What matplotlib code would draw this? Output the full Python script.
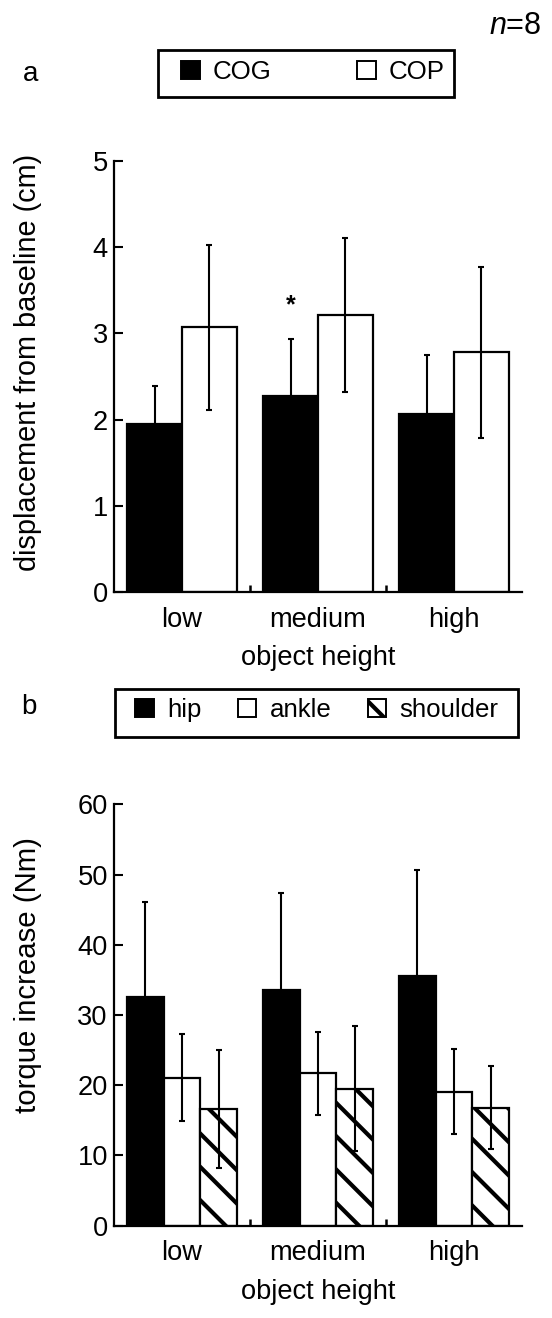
import matplotlib
matplotlib.use('Agg')
import matplotlib.pyplot as plt
from matplotlib.patches import Patch, Rectangle
import numpy as np

plt.rcParams['font.family'] = ['Liberation Sans', 'DejaVu Sans']
plt.rcParams['mathtext.fontset'] = 'custom'
plt.rcParams['mathtext.rm'] = 'Liberation Sans'
plt.rcParams['mathtext.it'] = 'Liberation Sans:italic'
plt.rcParams['hatch.linewidth'] = 1.5
plt.rcParams['hatch.color'] = 'black'

# ---------------- data ----------------
categories = ['low', 'medium', 'high']
cog = [1.95, 2.28, 2.07]
cog_err = [0.44, 0.65, 0.68]
cop = [3.07, 3.21, 2.78]
cop_err = [0.96, 0.89, 0.99]
hip = [32.6, 33.5, 35.6]
hip_err = [13.5, 13.9, 15.0]
ankle = [21.1, 21.7, 19.1]
ankle_err = [6.2, 5.9, 6.0]
shoulder = [16.6, 19.5, 16.8]
shoulder_err = [8.4, 8.9, 5.9]
yticks_a = [0, 1, 2, 3, 4, 5]
yticks_b = [0, 10, 20, 30, 40, 50, 60]

W, H = 552, 1318
DPI = 200
fig = plt.figure(figsize=(W / DPI, H / DPI), dpi=DPI)


def px_axes(left, top, right, bottom):
    return fig.add_axes([left / W, 1 - bottom / H, (right - left) / W, (bottom - top) / H])


axa = px_axes(114, 160.8, 522, 592.3)
axb = px_axes(114, 804.3, 522, 1225.7)

x = np.arange(len(categories))
LW = 0.8
FS = 9.8


def style(ax, yticks):
    for s in ['top', 'right']:
        ax.spines[s].set_visible(False)
    for s in ['left', 'bottom']:
        ax.spines[s].set_linewidth(LW)
    ax.set_xlim(-0.5, 2.5)
    ax.set_ylim(yticks[0], yticks[-1])
    ax.set_yticks(yticks)
    ax.tick_params(axis='y', direction='in', length=3.2, width=0.75, labelsize=FS, pad=2.2)
    ax.set_xticks(x)
    ax.set_xticklabels(categories)
    ax.tick_params(axis='x', which='major', length=0, labelsize=FS, pad=5.2)
    ax.set_xticks(x[:-1] + 0.5, minor=True)
    ax.tick_params(axis='x', which='minor', direction='in', length=2.6, width=0.9)
    ax.set_xlabel('object height', fontsize=FS, labelpad=4.5)


# ---------------- panel a ----------------
wa = 0.404
axa.bar(x - wa / 2, cog, wa, color='black', edgecolor='black', linewidth=LW, zorder=2)
axa.bar(x + wa / 2, cop, wa, color='white', edgecolor='black', linewidth=LW, zorder=2)
axa.errorbar(x - wa / 2, cog, yerr=cog_err, fmt='none', ecolor='black', elinewidth=0.75,
             capsize=1.1, capthick=0.75, zorder=3)
axa.errorbar(x + wa / 2, cop, yerr=cop_err, fmt='none', ecolor='black', elinewidth=0.75,
             capsize=1.1, capthick=0.75, zorder=3)
axa.text(x[1] - wa / 2, cog[1] + cog_err[1] + 0.4, '*', ha='center', va='center',
         fontsize=9, fontweight='bold')
style(axa, yticks_a)

# ---------------- panel b ----------------
wb = 0.27
axb.bar(x - wb, hip, wb, color='black', edgecolor='black', linewidth=LW, zorder=2)
axb.bar(x, ankle, wb, color='white', edgecolor='black', linewidth=LW, zorder=2)
axb.bar(x + wb, shoulder, wb, color='white', edgecolor='black', linewidth=LW,
        hatch='\\\\', zorder=2)
for off, vals, errs in [(-wb, hip, hip_err), (0, ankle, ankle_err), (wb, shoulder, shoulder_err)]:
    axb.errorbar(x + off, vals, yerr=errs, fmt='none', ecolor='black', elinewidth=0.75,
                 capsize=1.1, capthick=0.75, zorder=3)
style(axb, yticks_b)

# ---------------- labels ----------------
fig.text(28 / W, 1 - 362 / H, 'displacement from baseline (cm)', rotation=90,
         ha='center', va='center', fontsize=10.4)
fig.text(28 / W, 1 - 975 / H, 'torque increase (Nm)', rotation=90,
         ha='center', va='center', fontsize=10.6)
fig.text(31 / W, 1 - 81 / H, 'a', ha='center', va='baseline', fontsize=10)
fig.text(29 / W, 1 - 714 / H, 'b', ha='center', va='baseline', fontsize=10)
fig.text(541 / W, 1 - 34 / H, r'$n$=8', ha='right', va='baseline', fontsize=11)

# ---------------- legends ----------------
fig.add_artist(Rectangle((158 / W, 1 - 97 / H), 296 / W, 47 / H, transform=fig.transFigure,
                         fill=False, edgecolor='black', linewidth=1.0))
fig.add_artist(Rectangle((115 / W, 1 - 737 / H), 403 / W, 48 / H, transform=fig.transFigure,
                         fill=False, edgecolor='black', linewidth=1.0))

ha = [Patch(facecolor='black', edgecolor='black', linewidth=0.7, label='COG'),
      Patch(facecolor='white', edgecolor='black', linewidth=0.7, label='COP')]
fig.legend(handles=ha, loc='center', bbox_to_anchor=(313 / W, 1 - 72 / H), ncol=2,
           frameon=False, fontsize=9.3, handlelength=0.72, handleheight=0.72,
           handletextpad=0.52, columnspacing=3.3, borderpad=0, borderaxespad=0)

hb = [Patch(facecolor='black', edgecolor='black', linewidth=0.7, label='hip'),
      Patch(facecolor='white', edgecolor='black', linewidth=0.7, label='ankle'),
      Patch(facecolor='white', edgecolor='black', linewidth=0.7, hatch='\\', label='shoulder')]
fig.legend(handles=hb, loc='center', bbox_to_anchor=(317 / W, 1 - 710 / H), ncol=3,
           frameon=False, fontsize=9.3, handlelength=0.72, handleheight=0.72,
           handletextpad=0.52, columnspacing=1.4, borderpad=0, borderaxespad=0)

fig.savefig('out.png', dpi=DPI)
